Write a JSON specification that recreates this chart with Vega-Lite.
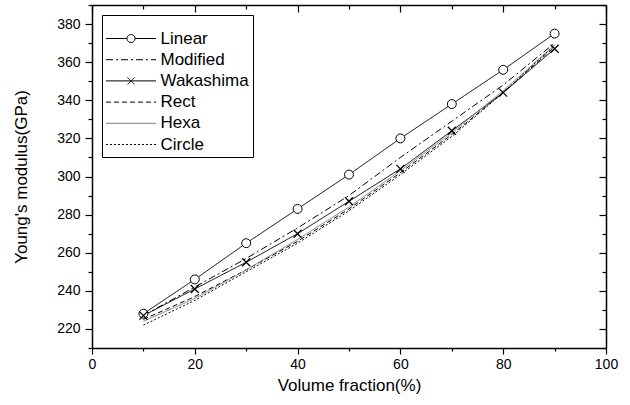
{
  "$schema": "https://vega.github.io/schema/vega-lite/v6.json",
  "width": 514,
  "height": 343,
  "autosize": {"type": "none"},
  "padding": {"left": 92, "top": 5, "right": 24, "bottom": 57},
  "background": "white",
  "config": {
    "view": {"stroke": null},
    "font": "Liberation Sans",
    "axis": {
      "grid": false,
      "domainColor": "black",
      "domainWidth": 1.5,
      "tickColor": "black",
      "tickWidth": 1.2,
      "labelColor": "black",
      "labelFont": "Liberation Sans",
      "labelFontSize": 14,
      "titleFont": "Liberation Sans",
      "titleFontSize": 17,
      "titleFontWeight": "normal",
      "titleColor": "black"
    }
  },
  "data": {
    "values": [
      {"series": "Linear", "vf": 10, "E": 228}, {"series": "Linear", "vf": 20, "E": 246}, {"series": "Linear", "vf": 30, "E": 265},
      {"series": "Linear", "vf": 40, "E": 283}, {"series": "Linear", "vf": 50, "E": 301}, {"series": "Linear", "vf": 60, "E": 320},
      {"series": "Linear", "vf": 70, "E": 338}, {"series": "Linear", "vf": 80, "E": 356}, {"series": "Linear", "vf": 90, "E": 375},
      {"series": "Modified", "vf": 10, "E": 227}, {"series": "Modified", "vf": 20, "E": 242}, {"series": "Modified", "vf": 30, "E": 257},
      {"series": "Modified", "vf": 40, "E": 273}, {"series": "Modified", "vf": 50, "E": 290}, {"series": "Modified", "vf": 60, "E": 310},
      {"series": "Modified", "vf": 70, "E": 329}, {"series": "Modified", "vf": 80, "E": 348}, {"series": "Modified", "vf": 90, "E": 370},
      {"series": "Wakashima", "vf": 10, "E": 227}, {"series": "Wakashima", "vf": 20, "E": 241}, {"series": "Wakashima", "vf": 30, "E": 255},
      {"series": "Wakashima", "vf": 40, "E": 270}, {"series": "Wakashima", "vf": 50, "E": 287}, {"series": "Wakashima", "vf": 60, "E": 304},
      {"series": "Wakashima", "vf": 70, "E": 324}, {"series": "Wakashima", "vf": 80, "E": 344}, {"series": "Wakashima", "vf": 90, "E": 367},
      {"series": "Rect", "vf": 10, "E": 225}, {"series": "Rect", "vf": 20, "E": 237}, {"series": "Rect", "vf": 30, "E": 251},
      {"series": "Rect", "vf": 40, "E": 266}, {"series": "Rect", "vf": 50, "E": 283}, {"series": "Rect", "vf": 60, "E": 302},
      {"series": "Rect", "vf": 70, "E": 322}, {"series": "Rect", "vf": 80, "E": 344}, {"series": "Rect", "vf": 90, "E": 368},
      {"series": "Hexa", "vf": 10, "E": 224}, {"series": "Hexa", "vf": 20, "E": 236}, {"series": "Hexa", "vf": 30, "E": 251},
      {"series": "Hexa", "vf": 40, "E": 267}, {"series": "Hexa", "vf": 50, "E": 284}, {"series": "Hexa", "vf": 60, "E": 303},
      {"series": "Hexa", "vf": 70, "E": 323}, {"series": "Hexa", "vf": 80, "E": 345}, {"series": "Hexa", "vf": 90, "E": 369},
      {"series": "Circle", "vf": 10, "E": 222}, {"series": "Circle", "vf": 20, "E": 235}, {"series": "Circle", "vf": 30, "E": 250},
      {"series": "Circle", "vf": 40, "E": 265}, {"series": "Circle", "vf": 50, "E": 282}, {"series": "Circle", "vf": 60, "E": 301},
      {"series": "Circle", "vf": 70, "E": 321}, {"series": "Circle", "vf": 80, "E": 344}, {"series": "Circle", "vf": 90, "E": 369}
    ]
  },
  "layer": [
    {
      "mark": {"type": "line", "clip": false},
      "encoding": {
        "x": {
          "field": "vf", "type": "quantitative",
          "scale": {"domain": [0, 100], "nice": false, "zero": false},
          "axis": {
            "orient": "bottom",
            "values": [0, 10, 20, 30, 40, 50, 60, 70, 80, 90, 100],
            "labelExpr": "datum.value % 20 === 0 ? datum.label : ''",
            "tickSize": {"condition": {"test": "datum.value % 20 !== 0", "value": 3}, "value": 6},
            "labelPadding": 3,
            "labelFlush": false,
            "labelOverlap": false,
            "title": "Volume fraction(%)",
            "titlePadding": 6
          }
        },
        "y": {
          "field": "E", "type": "quantitative",
          "scale": {"domain": [210, 390], "nice": false, "zero": false},
          "axis": {
            "orient": "left",
            "values": [210, 220, 230, 240, 250, 260, 270, 280, 290, 300, 310, 320, 330, 340, 350, 360, 370, 380, 390],
            "labelExpr": "datum.value % 20 === 0 && datum.value < 390 ? datum.label : ''",
            "tickSize": {"condition": {"test": "datum.value % 20 !== 0", "value": 4}, "value": 7},
            "labelPadding": 5,
            "labelFlush": false,
            "labelOverlap": false,
            "title": "Young's modulus(GPa)",
            "titlePadding": 26
          }
        },
        "strokeDash": {
          "field": "series", "type": "nominal",
          "scale": {
            "domain": ["Linear", "Modified", "Wakashima", "Rect", "Hexa", "Circle"],
            "range": [[1, 0], [7, 3, 2, 3], [1, 0], [5, 3], [1, 0], [2, 2]]
          },
          "legend": {
            "title": " ",
            "titleFontSize": 9,
            "titlePadding": 2,
            "orient": "top-left",
            "offset": 10,
            "padding": 4,
            "strokeColor": "black",
            "fillColor": "white",
            "labelFont": "Liberation Sans",
            "labelFontSize": 17,
            "labelColor": "black",
            "labelOffset": 21,
            "symbolSize": 100,
            "symbolOffset": 16.5,
            "symbolStrokeWidth": 1,
            "rowPadding": 3.2,
            "encode": {
              "symbols": {
                "update": {
                  "fill": {"value": "white"},
                  "shape": [
                    {"test": "datum.value === 'Linear'", "value": "M-5,0L-0.8,0M0.8,0L5,0M0.8,0A0.8,0.8 0 1,1 -0.8,0A0.8,0.8 0 1,1 0.8,0"},
                    {"test": "datum.value === 'Wakashima'", "value": "M-5,0L5,0M-0.7,-0.7L0.7,0.7M-0.7,0.7L0.7,-0.7"},
                    {"value": "M-5,0L5,0"}
                  ]
                }
              }
            }
          }
        },
        "color": {
          "field": "series", "type": "nominal",
          "scale": {
            "domain": ["Linear", "Modified", "Wakashima", "Rect", "Hexa", "Circle"],
            "range": ["black", "black", "black", "black", "#808080", "black"]
          }
        },
        "strokeWidth": {
          "field": "series", "type": "ordinal",
          "scale": {
            "domain": ["Linear", "Modified", "Wakashima", "Rect", "Hexa", "Circle"],
            "range": [1, 1, 1.6, 1.1, 1, 1.2]
          }
        }
      }
    },
    {
      "transform": [{"filter": "datum.series === 'Linear'"}],
      "mark": {"type": "point", "shape": "circle", "size": 80, "fill": "white", "stroke": "black", "strokeWidth": 1, "opacity": 1, "filled": false},
      "encoding": {
        "x": {
          "field": "vf", "type": "quantitative",
          "scale": {"domain": [0, 100], "nice": false, "zero": false},
          "axis": {
            "orient": "top",
            "values": [0, 10, 20, 30, 40, 50, 60, 70, 80, 90, 100],
            "labels": false,
            "title": null,
            "tickSize": {"condition": {"test": "datum.value % 20 !== 0", "value": -4}, "value": -7}
          }
        },
        "y": {
          "field": "E", "type": "quantitative",
          "scale": {"domain": [210, 390], "nice": false, "zero": false},
          "axis": {
            "orient": "right",
            "values": [210, 220, 230, 240, 250, 260, 270, 280, 290, 300, 310, 320, 330, 340, 350, 360, 370, 380, 390],
            "labels": false,
            "title": null,
            "tickSize": {"condition": {"test": "datum.value % 20 !== 0", "value": -4}, "value": -7}
          }
        }
      }
    },
    {
      "transform": [{"filter": "datum.series === 'Wakashima'"}],
      "mark": {"type": "point", "shape": "M-1,-1L1,1M-1,1L1,-1", "size": 64, "stroke": "black", "strokeWidth": 1.3, "opacity": 1, "filled": false},
      "encoding": {
        "x": {"field": "vf", "type": "quantitative", "axis": null},
        "y": {"field": "E", "type": "quantitative", "axis": null}
      }
    }
  ],
  "resolve": {"axis": {"x": "independent", "y": "independent"}}
}
